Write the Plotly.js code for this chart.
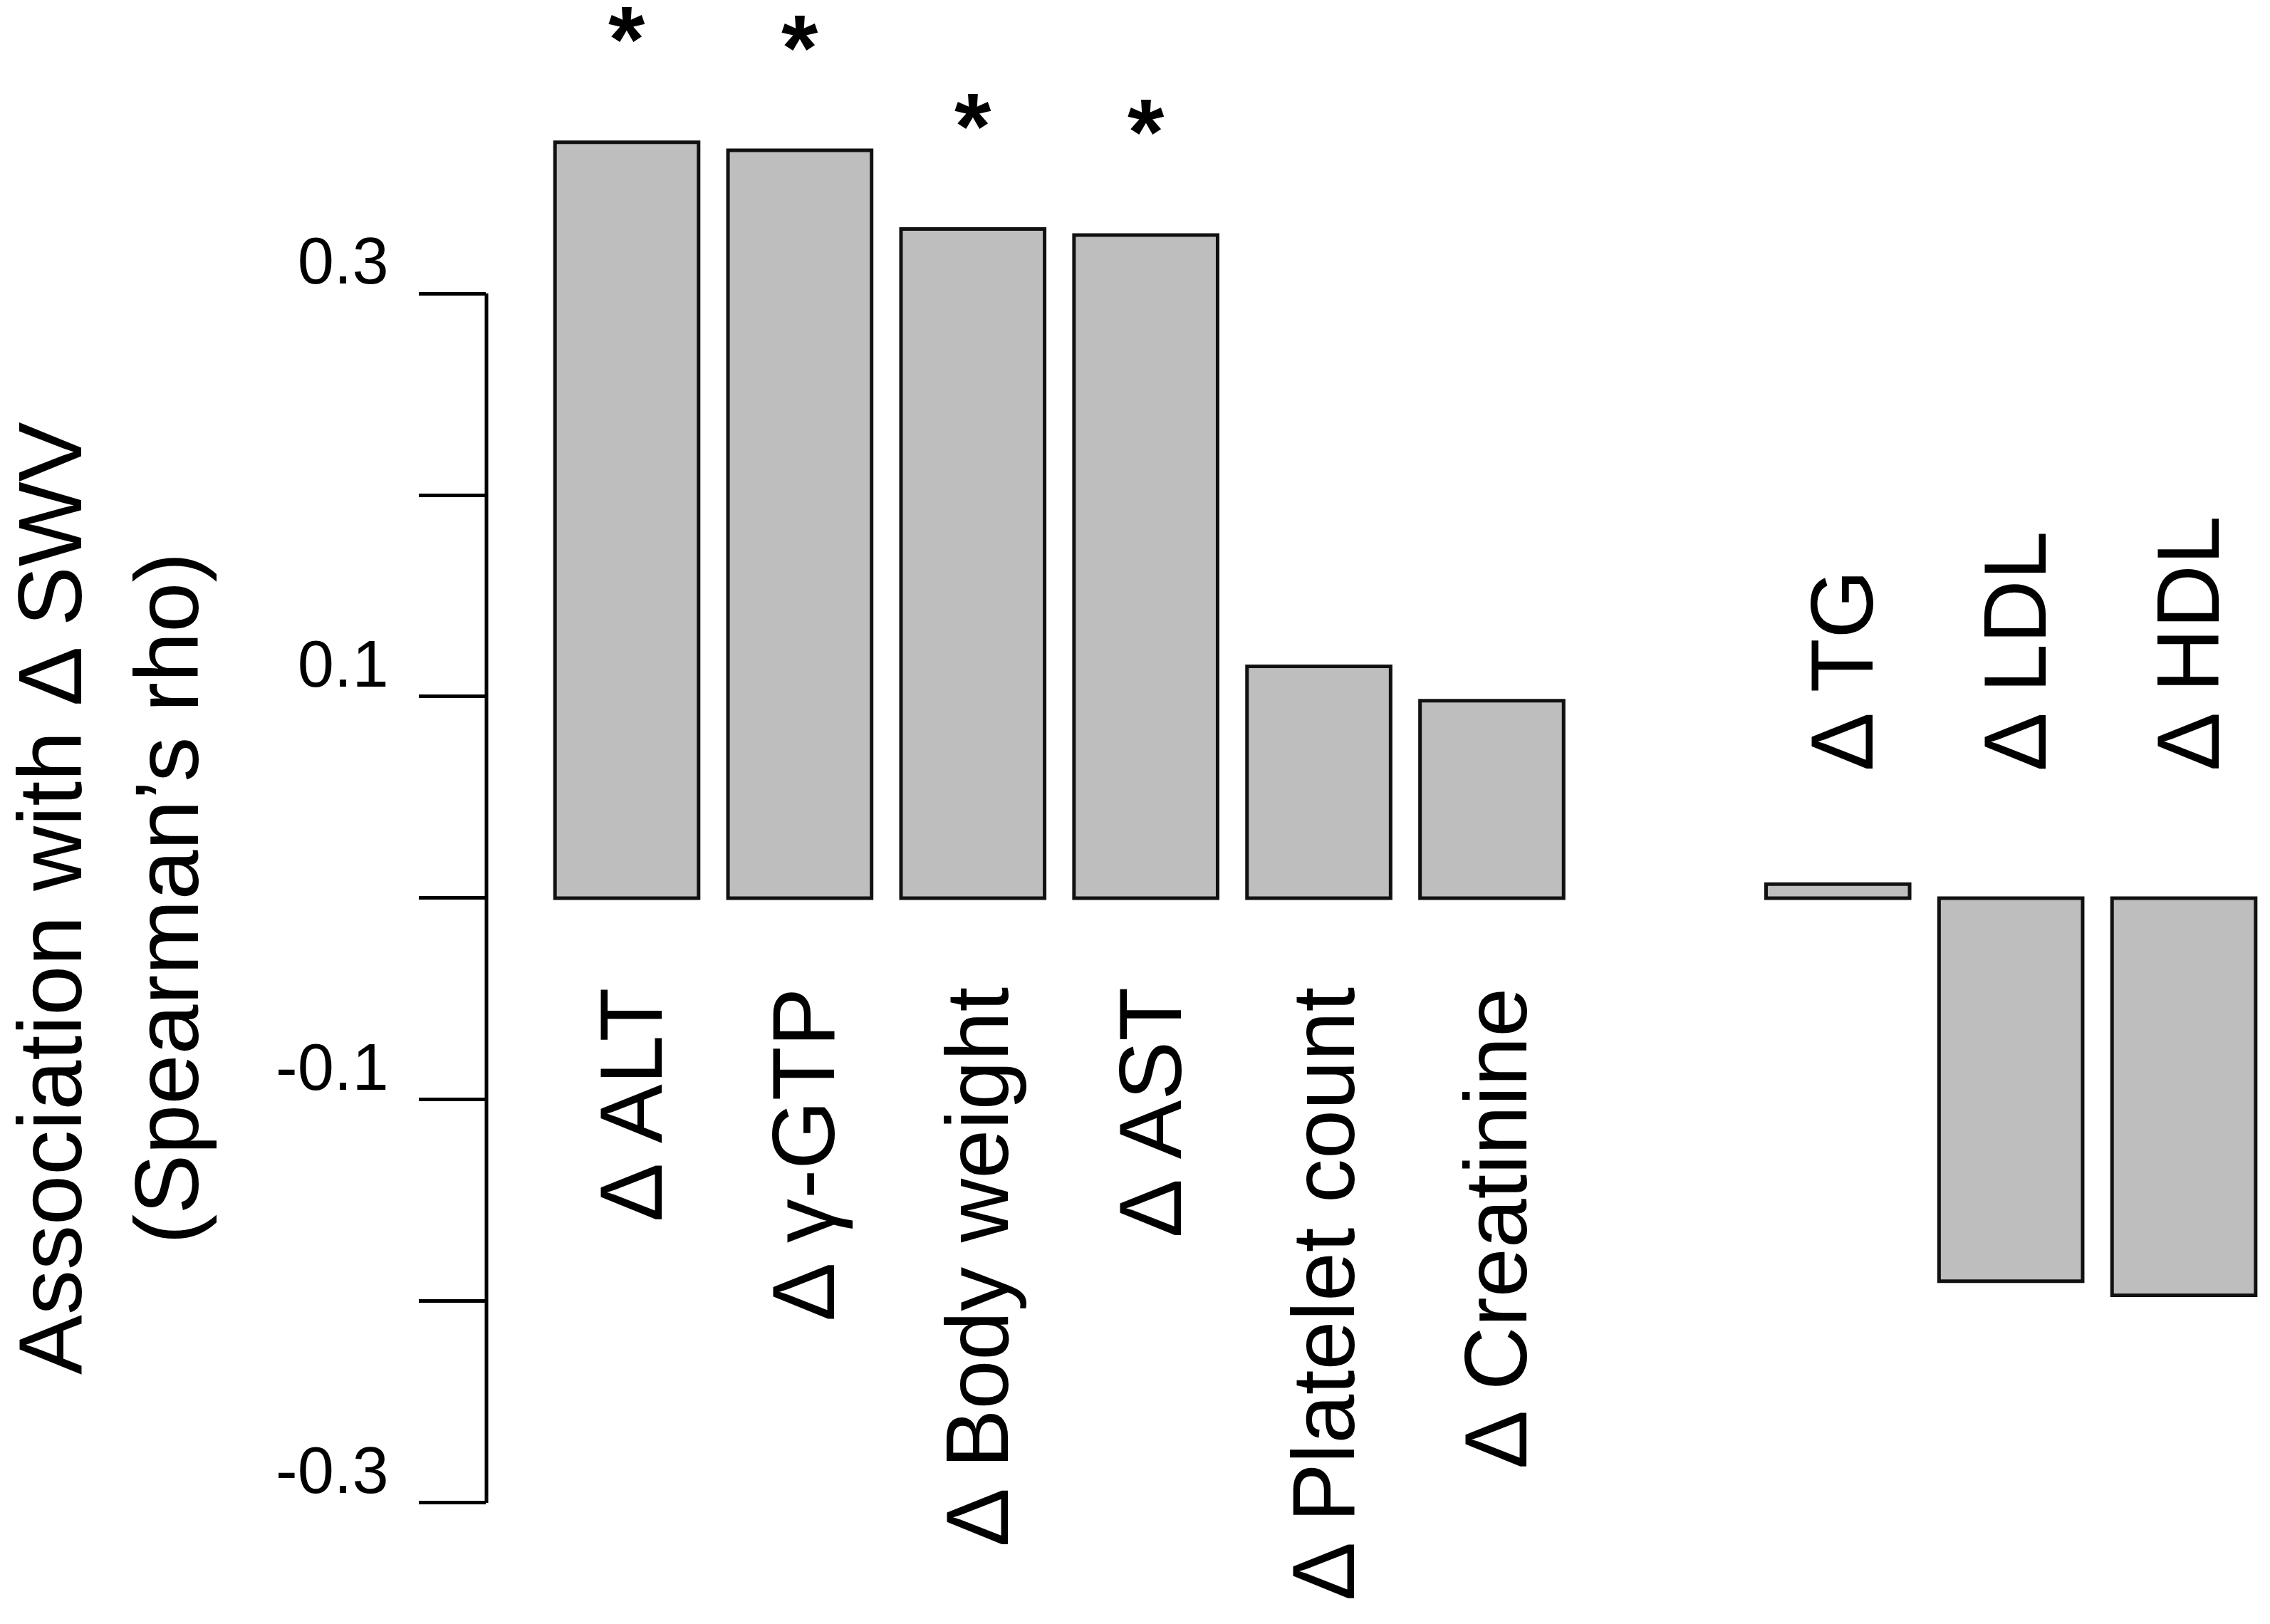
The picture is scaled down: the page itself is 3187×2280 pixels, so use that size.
<!DOCTYPE html>
<html>
<head>
<meta charset="utf-8">
<script src="https://cdn.plot.ly/plotly-3.0.1.min.js"></script>
<style>
  html, body { margin: 0; padding: 0; background: #fff; }
</style>
</head>
<body>
<div id="graph"></div>
<script>
// left group: labels hang under the zero line
const leftCategories = ['Δ ALT', 'Δ γ-GTP', 'Δ Body weight', 'Δ AST', 'Δ Platelet count', 'Δ Creatinine'];
const leftRho = [0.375, 0.371, 0.332, 0.329, 0.115, 0.098];

// right group: labels sit above the zero line
const rightCategories = ['Δ TG', 'Δ LDL', 'Δ HDL'];
const rightRho = [0.007, -0.190, -0.197];

// categories marked as significant
const starred = ['Δ ALT', 'Δ γ-GTP', 'Δ Body weight', 'Δ AST'];

// y axis ticks
const tickValues = [0.3, 0.2, 0.1, 0, -0.1, -0.2, -0.3];
const tickLabels = ['0.3', '', '0.1', '', '-0.1', '', '-0.3'];

const spacer = '(gap)';
const fontFamily = 'Liberation Sans, Arial, Helvetica, sans-serif';

document.addEventListener('DOMContentLoaded', function(event)
{
  displayPlot('graph');
});

function displayPlot(divPlot)
{
  const categories = leftCategories.concat(rightCategories);
  const rho = leftRho.concat(rightRho);

  let bars = {
    type: 'bar',
    x: categories,
    y: rho,
    width: 0.83,
    marker: {
      color: '#bebebe',
      line: { color: '#111', width: 5 }
    },
    hoverinfo: 'skip'
  };

  let annotations = [];

  // labels under the bars of the left group
  leftCategories.forEach(function(name)
  {
    annotations.push({
      x: name, y: 0, xref: 'x', yref: 'y',
      text: name, showarrow: false, textangle: -90,
      xanchor: 'center', yanchor: 'top', xshift: 6, yshift: -123,
      font: { family: fontFamily, size: 124, color: '#000' }
    });
  });

  // labels above the bars of the right group
  rightCategories.forEach(function(name)
  {
    annotations.push({
      x: name, y: 0, xref: 'x', yref: 'y',
      text: name, showarrow: false, textangle: -90,
      xanchor: 'center', yanchor: 'bottom', xshift: 6, yshift: 176,
      font: { family: fontFamily, size: 124, color: '#000' }
    });
  });

  // stars over significant bars
  starred.forEach(function(name)
  {
    annotations.push({
      x: name, y: rho[categories.indexOf(name)], xref: 'x', yref: 'y',
      text: '*', showarrow: false, borderpad: 0,
      xanchor: 'center', yanchor: 'middle', yshift: 144,
      font: { family: fontFamily, size: 132, weight: 'bold', color: '#000' }
    });
  });

  // y axis title, centred on zero
  annotations.push({
    x: 0, y: 0, xref: 'paper', yref: 'y',
    text: 'Association with Δ SWV<br>(Spearman’s rho)',
    showarrow: false, textangle: -90, borderpad: 0,
    xanchor: 'center', yanchor: 'middle', xshift: -530,
    font: { family: fontFamily, size: 126, color: '#000' }
  });

  let layout =
  {
    width: 3187,
    height: 2280,
    margin: { l: 683, r: 0, t: 0, b: 0, pad: 0 },
    paper_bgcolor: '#fff',
    plot_bgcolor: '#fff',
    showlegend: false,
    font: { family: fontFamily, color: '#000' },

    xaxis:
    {
      type: 'category',
      categoryorder: 'array',
      categoryarray: leftCategories.concat([spacer], rightCategories),
      range: [-0.811, 9.498],
      showticklabels: false,
      ticks: '',
      showgrid: false,
      zeroline: false,
      showline: false,
      fixedrange: true
    },
    yaxis:
    {
      range: [-0.3601, 0.4456],
      tickmode: 'array',
      tickvals: tickValues,
      ticktext: tickLabels,
      ticks: 'outside',
      ticklen: 94,
      tickwidth: 5,
      tickcolor: '#000',
      ticklabelstandoff: 24,
      ticklabelshift: -46,
      tickfont: { family: fontFamily, size: 92, color: '#000' },
      showgrid: false,
      zeroline: false,
      showline: false,
      fixedrange: true
    },

    // R style axis line that only spans the labelled ticks
    shapes: [{
      type: 'line', xref: 'paper', yref: 'y',
      x0: 0, x1: 0,
      y0: tickValues[tickValues.length - 1], y1: tickValues[0],
      line: { color: '#000', width: 5 }
    }],

    annotations: annotations
  };

  Plotly.newPlot(divPlot, [bars], layout, { staticPlot: true });
}
</script>
</body>
</html>
